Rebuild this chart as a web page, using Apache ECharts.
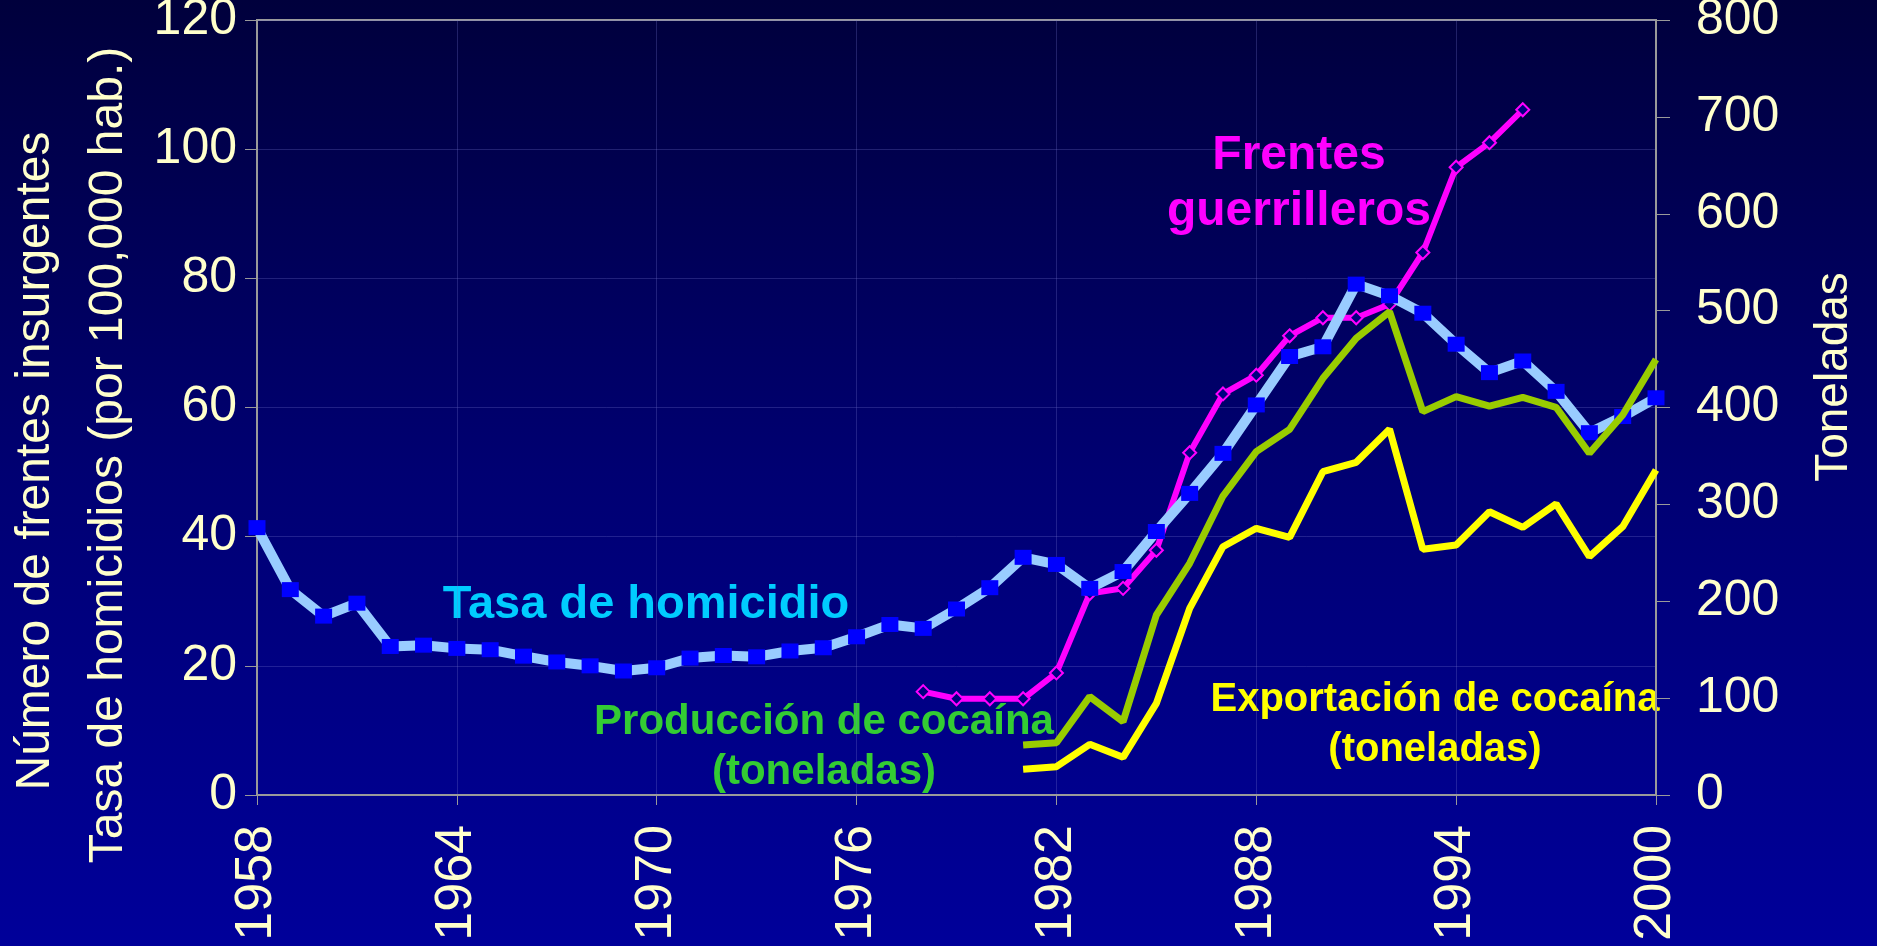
<!DOCTYPE html>
<html>
<head>
<meta charset="utf-8">
<title>Colombia: homicidios, frentes guerrilleros y cocaína</title>
<script src="https://cdn.jsdelivr.net/npm/echarts@6/dist/echarts.min.js"></script>
<style>
  html, body { margin: 0; padding: 0; }
  #chart { width: 1877px; height: 946px; }
</style>
</head>
<body>
<div id="chart"></div>
<script>
// años del eje x
const years = ["1958","1959","1960","1961","1962","1963","1964","1965","1966","1967",
  "1968","1969","1970","1971","1972","1973","1974","1975","1976","1977",
  "1978","1979","1980","1981","1982","1983","1984","1985","1986","1987",
  "1988","1989","1990","1991","1992","1993","1994","1995","1996","1997",
  "1998","1999","2000"];

// tasa de homicidios por 100,000 hab. (eje izquierdo), 1958-2000
const homicidio = [41.4, 31.8, 27.7, 29.7, 23.0, 23.2, 22.7, 22.5, 21.5, 20.6,
  20.0, 19.2, 19.7, 21.2, 21.6, 21.4, 22.3, 22.8, 24.5, 26.4,
  25.8, 28.8, 32.1, 36.8, 35.7, 32.0, 34.6, 40.8, 46.7, 52.9,
  60.4, 67.9, 69.4, 79.1, 77.3, 74.6, 69.8, 65.4, 67.2, 62.5,
  56.1, 58.6, 61.5];

// frentes guerrilleros (eje izquierdo), desde 1978
const frentesStart = 1978;
const frentes = [16.0, 14.9, 14.9, 14.9, 18.9, 31.2, 32.0, 37.9, 53.0, 62.1,
  65.0, 71.1, 73.9, 73.9, 76.0, 84.0, 97.2, 101.0, 106.1];

// toneladas de cocaína (eje derecho), desde 1981
const cocaStart = 1981;
const produccion = [51.6, 54.0, 101.5, 75.7, 185.8, 239.2, 308.6, 354.4, 377.5, 430.1,
  471.4, 498.9, 395.7, 411.2, 401.5, 410.5, 400.2, 352.7, 392.3, 449.7];
const exportacion = [26.5, 29.2, 52.3, 38.9, 94.6, 192.7, 256.3, 275.3, 266.0, 333.7,
  343.4, 377.5, 253.6, 258.1, 292.4, 276.3, 300.4, 246.0, 277.0, 335.5];

const leftTicks = { min: 0, max: 120, interval: 20 };
const rightTicks = { min: 0, max: 800, interval: 100 };

function fromYear(start, values) {
  return values.map((v, i) => [start - 1958 + i, v]);
}

const cream = "#FFFFCC";
const gridGray = "#9a9a9a";
const splitColor = "rgba(120,120,210,0.28)";
const font = "'Liberation Sans', Arial, sans-serif";

const chart = echarts.init(document.getElementById("chart"));

const option = {
  animation: false,
  backgroundColor: {
    type: "linear", x: 0, y: 0, x2: 0, y2: 1,
    colorStops: [
      { offset: 0, color: "#00003c" },
      { offset: 0.5, color: "#000072" },
      { offset: 1, color: "#00009a" }
    ]
  },
  grid: {
    left: 257, right: 221, top: 20, bottom: 151,
    containLabel: false,
    outerBoundsMode: "none",
    show: true, borderColor: gridGray, borderWidth: 2,
    backgroundColor: "transparent"
  },
  xAxis: {
    type: "category",
    data: years,
    boundaryGap: false,
    axisLine: { lineStyle: { color: gridGray, width: 2 } },
    axisTick: { interval: 5, length: 10, lineStyle: { color: gridGray } },
    axisLabel: {
      interval: 5, rotate: 90, margin: 30,
      color: cream, fontSize: 52, fontFamily: font
    },
    splitLine: { show: true, interval: 5, lineStyle: { color: splitColor } }
  },
  yAxis: [
    {
      type: "value",
      min: leftTicks.min, max: leftTicks.max, interval: leftTicks.interval,
      axisLine: { show: true, lineStyle: { color: gridGray, width: 2 } },
      axisTick: { show: true, length: 12, lineStyle: { color: gridGray } },
      axisLabel: { margin: 20, color: cream, fontSize: 50, fontFamily: font },
      splitLine: { lineStyle: { color: splitColor } }
    },
    {
      type: "value",
      min: rightTicks.min, max: rightTicks.max, interval: rightTicks.interval,
      position: "right",
      axisLine: { show: true, lineStyle: { color: gridGray, width: 2 } },
      axisTick: { show: true, length: 14, lineStyle: { color: gridGray } },
      axisLabel: { margin: 40, color: cream, fontSize: 50, fontFamily: font },
      splitLine: { show: false }
    }
  ],
  series: [
    {
      name: "Frentes guerrilleros",
      type: "line",
      yAxisIndex: 0,
      z: 2,
      data: fromYear(frentesStart, frentes),
      lineStyle: { color: "#FF00FF", width: 6 },
      symbol: "diamond",
      symbolSize: 13,
      itemStyle: { color: "#000080", borderColor: "#FF00FF", borderWidth: 2 }
    },
    {
      name: "Tasa de homicidio",
      type: "line",
      yAxisIndex: 0,
      z: 3,
      data: homicidio,
      lineStyle: { color: "#99CCFF", width: 10 },
      symbol: "rect",
      symbolSize: [17, 15],
      itemStyle: { color: "#0000FF" }
    },
    {
      name: "Exportación de cocaína",
      type: "line",
      yAxisIndex: 1,
      z: 4,
      data: fromYear(cocaStart, exportacion),
      lineStyle: { color: "#FFFF00", width: 7 },
      symbol: "none"
    },
    {
      name: "Producción de cocaína",
      type: "line",
      yAxisIndex: 1,
      z: 5,
      data: fromYear(cocaStart, produccion),
      lineStyle: { color: "#99CC00", width: 7 },
      symbol: "none"
    }
  ],
  graphic: [
    // nombres de los ejes
    {
      type: "text", x: 36, y: 461, rotation: Math.PI / 2,
      style: { text: "Número de frentes insurgentes", fill: cream, font: "48px " + font, textAlign: "center", textVerticalAlign: "middle" }
    },
    {
      type: "text", x: 109, y: 455, rotation: Math.PI / 2,
      style: { text: "Tasa de homicidios (por 100,000 hab.)", fill: cream, font: "48px " + font, textAlign: "center", textVerticalAlign: "middle" }
    },
    {
      type: "text", x: 1834, y: 377, rotation: Math.PI / 2,
      style: { text: "Toneladas", fill: cream, font: "46px " + font, textAlign: "center", textVerticalAlign: "middle" }
    },
    // etiquetas de las series
    {
      type: "text", x: 646, y: 605,
      style: { text: "Tasa de homicidio", fill: "#00CCFF", font: "bold 47px " + font, textAlign: "center", textVerticalAlign: "middle" }
    },
    {
      type: "text", x: 1299, y: 184,
      style: { text: "Frentes\nguerrilleros", fill: "#FF00FF", font: "bold 48px " + font, lineHeight: 56, textAlign: "center", textVerticalAlign: "middle" }
    },
    {
      type: "text", x: 824, y: 747,
      style: { text: "Producción de cocaína\n(toneladas)", fill: "#33CC33", font: "bold 42px " + font, lineHeight: 50, textAlign: "center", textVerticalAlign: "middle" }
    },
    {
      type: "text", x: 1435, y: 725,
      style: { text: "Exportación de cocaína\n(toneladas)", fill: "#FFFF00", font: "bold 40px " + font, lineHeight: 50, textAlign: "center", textVerticalAlign: "middle" }
    }
  ]
};

chart.setOption(option);
</script>
</body>
</html>
